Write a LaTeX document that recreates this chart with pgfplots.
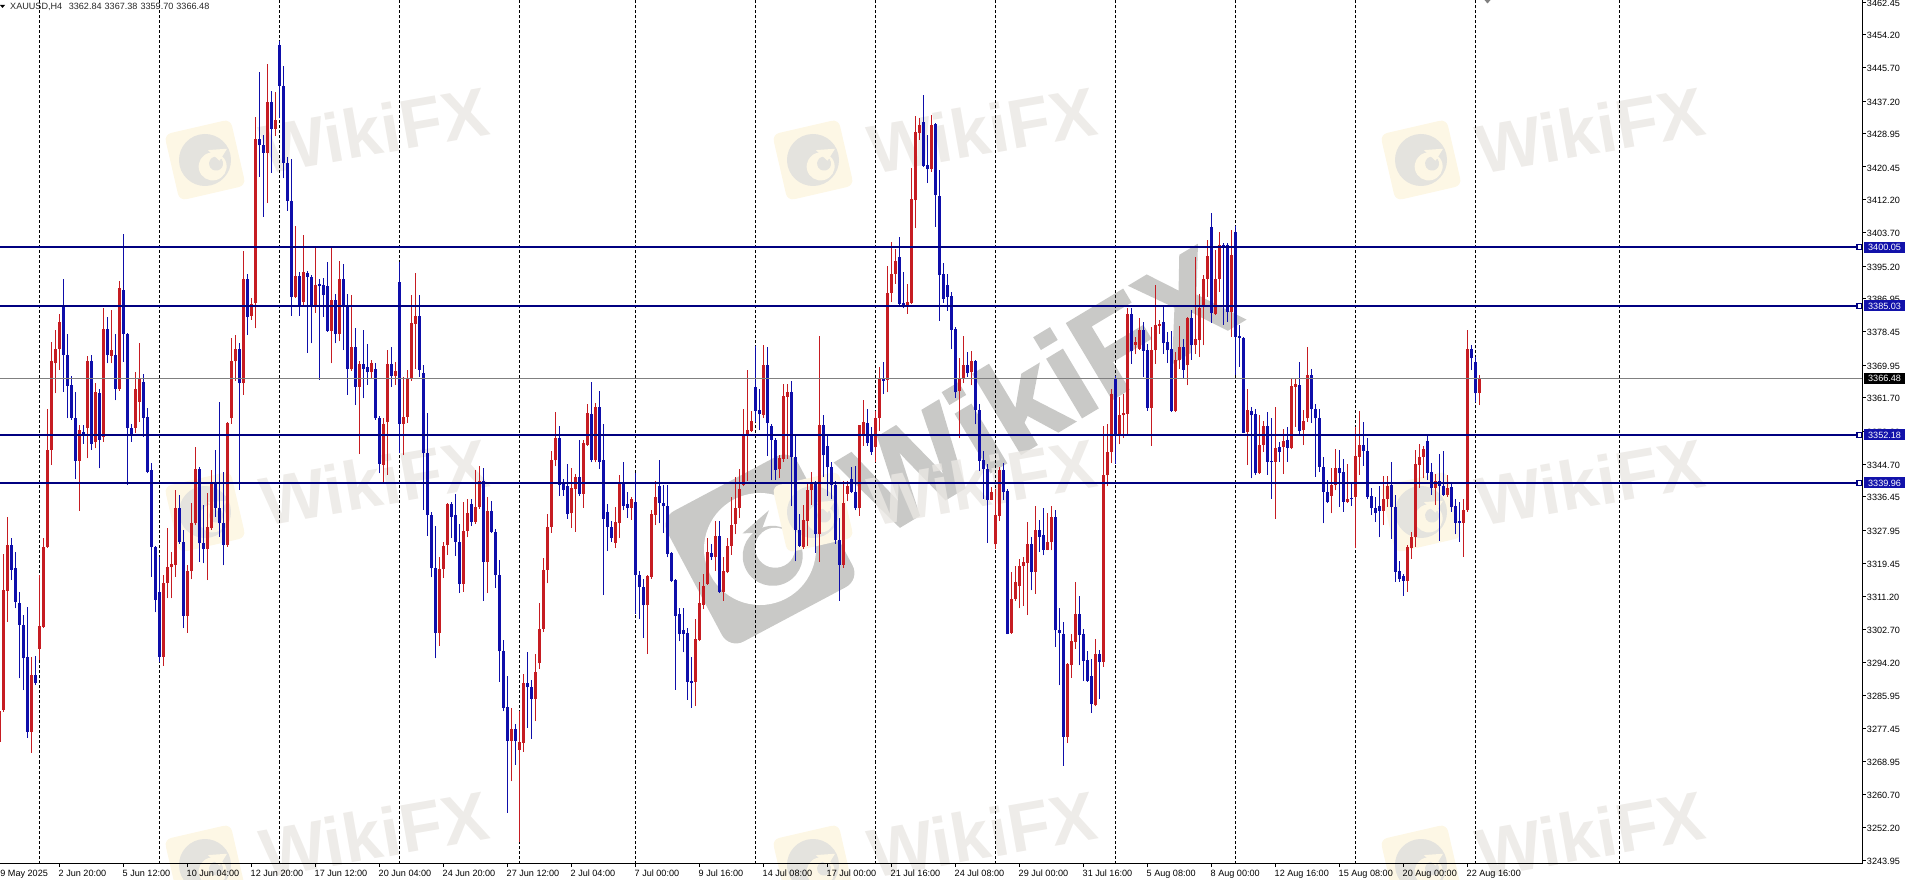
\documentclass[border=0pt]{standalone}
\usepackage{fontspec}
\setmainfont{Liberation Sans}
\newfontfamily\wmfont[FakeBold=1.6]{Liberation Sans Bold}
\usepackage{pgfplots}
\usepackage{pgfplotstable}
\pgfplotsset{compat=1.18}
\definecolor{upc}{RGB}{198,28,34}
\definecolor{dnc}{RGB}{14,14,170}
\definecolor{lvl}{RGB}{0,0,128}
\definecolor{tag}{RGB}{18,18,170}
\definecolor{wmtext}{RGB}{234,231,227}
\definecolor{wmlogo}{RGB}{253,247,229}
\definecolor{wmeagle}{RGB}{228,227,222}
\definecolor{wmbig}{RGB}{201,201,199}
\pgfplotstableread{
k o h l c
-10 3274 3286 3272.8 3282
-9 3282.1 3322 3281.7 3312.7
-8 3312.5 3331.4 3304.6 3324.2
-7 3324.2 3325.9 3315.2 3317.8
-6 3318.2 3322.5 3308 3309.7
-5 3309.5 3312.1 3290.2 3303.8
-4 3303.8 3306.3 3287.2 3295.3
-3 3295.7 3308.5 3275.1 3276.6
-2 3276.6 3295.7 3271.3 3291.1
-1 3291.1 3295.9 3288.5 3289
0 3297.8 3316.5 3294.9 3303.5
1 3303.4 3325.9 3303 3323.7
2 3323.6 3358.7 3323.4 3348.4
3 3348.4 3375.9 3344.5 3370.9
4 3370.4 3379 3362.8 3374.2
5 3374.2 3383.1 3368.7 3381
6 3385 3392 3363.2 3372.5
7 3372.5 3377.8 3356.4 3364.7
8 3364.9 3367.2 3356 3356.6
9 3356.6 3363.2 3340.9 3345.6
10 3345.6 3354.7 3332.9 3353.4
11 3353 3354.8 3349.9 3352.2
12 3353.9 3372.4 3346.2 3370.9
13 3370.9 3372.5 3348.4 3350
14 3350.3 3365.3 3348.8 3363
15 3362.8 3364 3343.7 3351
16 3351.7 3384.4 3350.5 3379.1
17 3379.1 3382.3 3370.4 3372.5
18 3372.4 3384 3370.4 3373.8
19 3372.5 3378 3361 3364
20 3364 3391.4 3363.5 3389.5
21 3389.2 3403.4 3370.8 3378
22 3378 3378.2 3339.4 3353.9
23 3353.9 3355 3350.4 3352.2
24 3353.9 3368.3 3352.6 3364
25 3360.6 3375.5 3355.5 3366.4
26 3365.8 3367.7 3351.7 3356.6
27 3356.8 3359 3342.4 3342.8
28 3343.3 3345 3316.1 3323.6
29 3323.6 3324 3307 3310.2
30 3312.1 3321.2 3294.4 3295.7
31 3295.7 3316.5 3293.3 3314.6
32 3314.6 3328.4 3310.6 3318.5
33 3318.5 3322.5 3310.6 3319.3
34 3319.1 3338.2 3316.1 3333.5
35 3333.5 3337 3324.5 3325
36 3325 3328 3303 3306.1
37 3306.1 3319 3301.8 3317.5
38 3317.5 3334.8 3315.4 3329.7
39 3329.7 3349 3329.2 3343.4
40 3343.4 3344 3319.9 3324.6
41 3324.6 3334.3 3319.5 3323.1
42 3323.1 3337.3 3315.2 3328.7
43 3328.4 3343.3 3328 3339.9
44 3340 3348.4 3331.4 3333.5
45 3333.7 3360.6 3326.3 3329.7
46 3329.7 3342.8 3319 3324.2
47 3324.2 3355.6 3323.7 3355.3
48 3356.4 3376.8 3355.1 3370.9
49 3370.9 3377.6 3366 3374
50 3374.2 3375.5 3338.2 3365.3
51 3365.3 3399.1 3362.4 3391.8
52 3391.8 3393.2 3377.6 3382.3
53 3382.5 3387 3381.5 3385.5
54 3385.9 3433.2 3379.3 3427.5
55 3427.5 3444.5 3418 3425.9
56 3426 3428.6 3407.8 3424.1
57 3424.1 3446.7 3411.2 3437
58 3436.9 3439.9 3419 3430.1
59 3430.1 3439.6 3428.3 3432.4
60 3451.5 3452.6 3433 3441.1
61 3441.1 3446.1 3417.5 3421.4
62 3421.4 3423 3409.3 3411.8
63 3411.8 3422.4 3382.5 3387.4
64 3387.4 3405.4 3387 3392.7
65 3392.7 3393.8 3382.5 3385
66 3386.1 3403.2 3384.8 3393.8
67 3393.5 3394 3373.1 3392.5
68 3392.5 3393 3375.5 3385
69 3385 3400 3383.3 3390.4
70 3390.6 3391.8 3366.2 3390
71 3390.4 3392.2 3382.3 3387.8
72 3390.1 3396.3 3378.5 3378.7
73 3378.7 3400 3370.4 3386.5
74 3386.5 3388 3375.5 3377.9
75 3377.9 3396.6 3376 3392
76 3392 3395.6 3373.8 3385
77 3385 3388 3362.4 3368.9
78 3368.9 3387.8 3368.5 3374.6
79 3374.6 3379.3 3359.8 3364.5
80 3364.5 3371 3347.3 3370.2
81 3370.2 3379 3361.5 3369.1
82 3369.6 3375.3 3365 3368.1
83 3368.1 3371.3 3366.6 3370.4
84 3368.9 3370.4 3356 3356.4
85 3356.4 3357 3342.4 3344.8
86 3344.5 3356.4 3340.3 3355.1
87 3355.6 3373.8 3342 3370.2
88 3370.2 3374.5 3364.5 3367.2
89 3367.2 3370.8 3364.9 3368.5
90 3391.2 3396.3 3347.5 3355.1
91 3355.1 3367 3347 3356.8
92 3356.8 3368.7 3355.3 3366.5
93 3366.5 3387.8 3366 3380.8
94 3380.4 3393.4 3369 3382.5
95 3382.5 3387.8 3367 3368.7
96 3367.9 3370 3333.1 3347.5
97 3347.5 3357.9 3326.5 3331.8
98 3331.8 3332.5 3315.9 3318.2
99 3318.2 3329 3295.3 3301.8
100 3301.8 3321.2 3298.4 3318
101 3318 3325 3315.7 3323.9
102 3324.2 3334.8 3321.6 3334.6
103 3334.6 3335.2 3325.9 3331.4
104 3331.8 3337.2 3321.4 3325
105 3325 3329.5 3311.9 3314.2
106 3314.2 3335.2 3312.3 3327.8
107 3327.8 3336 3326.1 3332.2
108 3334.6 3336 3329 3330.1
109 3330.1 3343.3 3329.5 3333.9
110 3333.9 3344.3 3333.4 3340.5
111 3340.5 3343.8 3310 3319.8
112 3319.8 3336.3 3311.9 3332.8
113 3332.8 3335.3 3327.3 3327.5
114 3327.5 3328.3 3313.3 3316.5
115 3316.5 3320.3 3289.3 3297.1
116 3297.1 3300.1 3281.8 3282.7
117 3283 3290.9 3256 3274.3
118 3274.3 3282.7 3264 3277.4
119 3277.4 3278.5 3268.2 3274.3
120 3271.9 3281.8 3248.5 3274
121 3273.8 3291.2 3271.5 3289
122 3289 3296.8 3277.6 3287.9
123 3287.9 3289.8 3274.8 3284.9
124 3284.9 3296.4 3279.3 3291.7
125 3294 3309.3 3292.6 3302.7
126 3302.9 3320.8 3302 3317.8
127 3317.8 3332 3314.4 3328.8
128 3328.8 3348.2 3327.3 3345.8
129 3345.7 3358 3344.2 3351.3
130 3351.3 3354.4 3336.7 3339.5
131 3340.3 3341 3336.7 3338.1
132 3339.1 3344.7 3330.9 3332
133 3332.2 3343.8 3328.5 3338.8
134 3338.4 3342.2 3327.5 3341.6
135 3341.6 3351 3336.7 3337.2
136 3337.2 3351 3333.7 3350.1
137 3349.7 3360 3349.4 3357.9
138 3357.4 3365.7 3345.2 3345.9
139 3345.7 3360.2 3345.2 3359.3
140 3359.3 3363.5 3343.5 3345.4
141 3345.9 3355 3311.4 3330.9
142 3332.5 3334.7 3322.6 3328.8
143 3328.8 3330.2 3325 3325.9
144 3324.7 3333.9 3323.4 3330
145 3329.7 3341.9 3325.9 3339.7
146 3340 3345.2 3333 3334.1
147 3334.7 3337.7 3331.1 3333.7
148 3333.7 3336.3 3330.6 3335.8
149 3335 3342.6 3306.7 3316.5
150 3316.5 3317.5 3305.3 3313.4
151 3313.4 3315.6 3300.6 3308.8
152 3308.8 3316.5 3296.4 3316.3
153 3316.1 3333 3315.6 3332
154 3331.9 3340.5 3329.2 3336.5
155 3339.1 3345.7 3329.7 3334.9
156 3334.9 3339.5 3327.2 3334
157 3334 3339.4 3321 3321.9
158 3322.2 3322.4 3314.7 3315.1
159 3315.3 3315.6 3287.3 3306.2
160 3306.5 3308.1 3299.6 3301.5
161 3302.5 3308.1 3296.8 3301.5
162 3301.8 3303.1 3284.8 3289.3
163 3289.5 3295.6 3282.7 3289.1
164 3289.3 3305.3 3283.2 3300.3
165 3300.1 3314.7 3299.6 3309.3
166 3309 3316.8 3307.8 3313.7
167 3314.2 3325.9 3314 3322.5
168 3322.2 3324.5 3320.3 3321
169 3321 3330.2 3317.5 3326.4
170 3326.4 3330.2 3311.9 3312.3
171 3312.3 3321.2 3310 3317.5
172 3317.2 3325.9 3317 3324
173 3324 3336.3 3321.7 3329.2
174 3329.4 3341.4 3326.9 3333.7
175 3333.7 3343.5 3331.1 3338.4
176 3339.5 3358.8 3339.1 3351.9
177 3351.9 3368.7 3340.5 3353.4
178 3353.2 3358.3 3352.9 3355.7
179 3364.4 3374.8 3355.5 3358.3
180 3358.5 3364 3353.4 3357.4
181 3357.2 3375 3356.5 3370.1
182 3370.1 3374.5 3346.9 3355.3
183 3354.4 3355 3340.7 3351
184 3351 3351.3 3340.7 3343.3
185 3343.5 3347.1 3341.2 3346.3
186 3346.1 3365.1 3345.4 3362.1
187 3361.9 3365.1 3346.1 3363.2
188 3363.2 3366 3334.1 3346.6
189 3346.6 3351.8 3320 3328.1
190 3328.1 3332 3323.6 3324
191 3323.6 3334.4 3323.1 3330.6
192 3330.4 3340 3324 3338.1
193 3338.1 3342.8 3334.4 3340
194 3339.7 3340.5 3322.2 3326.9
195 3326.9 3377.3 3319.8 3354.6
196 3354.6 3357.2 3341.4 3347
197 3349.4 3352.2 3336.7 3344
198 3344 3345.2 3335.8 3339.4
199 3339.4 3340.5 3324.5 3325.5
200 3325.5 3331.1 3310 3319.1
201 3319.1 3340.5 3318.4 3334.9
202 3337.2 3340.5 3335.3 3339.1
203 3341 3344 3337.5 3337.7
204 3337.7 3344.2 3333 3333.5
205 3333.5 3354.6 3331.6 3354.6
206 3352.5 3361 3349.4 3355.5
207 3355.2 3358.8 3349.4 3350.1
208 3352.2 3354.1 3347.1 3347.8
209 3349 3358.3 3345.2 3356.5
210 3356.5 3369.6 3353.2 3366.6
211 3366.6 3370.7 3362.6 3366
212 3366.3 3395.2 3363 3388.4
213 3388.4 3401.4 3386 3393.2
214 3393.2 3399.6 3390.7 3396.6
215 3397.4 3402.5 3384.9 3385.6
216 3385.7 3393.8 3384.4 3384.7
217 3385.3 3390.7 3383 3386.1
218 3385.7 3420.1 3385.5 3412.2
219 3412 3433.4 3404.8 3429.4
220 3429.1 3432.8 3427.3 3431.1
221 3432 3438.8 3420.5 3420.7
222 3420.9 3428.6 3416.3 3419.8
223 3420 3433.7 3419.2 3431.1
224 3431.3 3431.5 3405.2 3413.3
225 3413 3419.7 3381.3 3392.9
226 3393.2 3395.9 3385.8 3386.9
227 3390.4 3393.2 3383.8 3387.4
228 3387.6 3388.7 3374 3379
229 3379.2 3379.6 3361.7 3363
230 3363.3 3371.8 3351.3 3366.5
231 3366.5 3377.3 3365.4 3369.9
232 3369.9 3373.3 3367 3368
233 3368.2 3373.6 3364.8 3370.9
234 3370.9 3371.2 3354.9 3358.6
235 3358.6 3360 3343 3345.6
236 3345.7 3348.1 3336 3343.6
237 3343.6 3344.7 3324.7 3335.7
238 3335.7 3338.9 3335.5 3337.6
239 3324.3 3338.5 3323.2 3331.7
240 3331.5 3344 3330.3 3343.2
241 3343.2 3345 3335.5 3337.6
242 3337.9 3338.5 3301.4 3301.6
243 3301.7 3317.3 3301.6 3310.5
244 3310.5 3318.7 3310 3314.7
245 3313.6 3320.7 3308 3318.7
246 3318.7 3321.1 3308.6 3319.8
247 3319.6 3330 3306.3 3324.3
248 3324.3 3326.3 3312.6 3317.3
249 3317.3 3334 3311.7 3328.1
250 3328.1 3330.6 3322.4 3326.2
251 3326.6 3333.6 3321.5 3322.9
252 3322.9 3332.4 3322.8 3324.9
253 3324.9 3334 3322.8 3331.3
254 3331.3 3333 3298.2 3302.4
255 3302.6 3308.2 3288.4 3301.8
256 3301.4 3304.5 3267.9 3275.4
257 3275.3 3294 3273.7 3293.8
258 3293.5 3301.4 3290.3 3299.7
259 3299.5 3314.7 3297.7 3306.7
260 3306.7 3311.1 3293.5 3301.2
261 3301.4 3302.9 3289.5 3294.6
262 3294.8 3297.2 3289.3 3289.5
263 3290.7 3295.2 3281.4 3283.6
264 3283.3 3300.3 3283.1 3296.5
265 3296.5 3297.5 3285 3294.4
266 3294.4 3354.4 3293.1 3341.9
267 3341.9 3354.9 3339.1 3347.9
268 3347.9 3364 3345 3362.7
269 3366.5 3367.1 3344.9 3352.1
270 3352.1 3361.9 3349.8 3357.2
271 3357.2 3362.5 3351.5 3357.7
272 3357.6 3384.6 3352.5 3383
273 3383 3384.6 3370.3 3373.6
274 3375.2 3377.1 3372.7 3375.8
275 3374.2 3382 3373.9 3378.9
276 3378.9 3381 3366.9 3373.6
277 3373.7 3375.4 3358.4 3359.1
278 3359.1 3379.7 3349.5 3373.7
279 3373.7 3390.3 3370.3 3380.1
280 3379.9 3381.4 3378 3380.5
281 3381 3384.8 3372.9 3375.6
282 3375.9 3378.4 3370.5 3373.7
283 3374.2 3378.7 3358 3358.3
284 3358.3 3373.3 3358 3371.4
285 3371.4 3379.9 3369.1 3374.6
286 3374.6 3376.7 3366.8 3368.8
287 3369.9 3382.2 3364.8 3382
288 3382 3383.9 3371.4 3375
289 3375 3397.4 3372.8 3376.5
290 3376.3 3388 3372 3384.6
291 3385.3 3392.9 3375 3392
292 3392 3401.8 3387.4 3397.7
293 3405.2 3408.6 3380.8 3383.2
294 3383.1 3399.3 3382.7 3392
295 3392 3403.9 3388.7 3400.5
296 3400.5 3401 3380.2 3400.1
297 3400.5 3401 3381 3383.6
298 3383.6 3404.5 3377.2 3398
299 3403.8 3405.4 3367.4 3377.2
300 3377.4 3380.2 3369.6 3377
301 3377 3377.2 3352.6 3352.8
302 3353 3363.8 3344.5 3358.5
303 3358.4 3359.2 3341.1 3357.2
304 3357.5 3358.7 3342 3342.4
305 3342.4 3357.2 3342.2 3349.6
306 3349.6 3355.8 3347.9 3354.4
307 3354.4 3358.1 3342 3345.4
308 3345.6 3356.4 3336 3345.2
309 3345.4 3359.4 3330.9 3348.9
310 3349.2 3350.5 3345.4 3347.9
311 3349.2 3353.6 3342.2 3350.7
312 3350.9 3354.1 3345.4 3348.9
313 3348.8 3366.6 3348.5 3364.6
314 3364.5 3366.8 3354.3 3365.1
315 3364.9 3370.7 3352.4 3353.3
316 3353.4 3358.5 3349.6 3355.8
317 3356.4 3374.6 3355.5 3367.4
318 3367.4 3369.1 3355.3 3358.7
319 3358.7 3360 3341.5 3356.4
320 3356.4 3358.9 3342.8 3344.1
321 3344.1 3346.5 3329.7 3337.7
322 3337.7 3340.7 3334.8 3335.2
323 3336.7 3343.7 3332.2 3339.4
324 3339.4 3348.5 3338.1 3343.7
325 3343.7 3348.3 3333.9 3342.4
326 3342.8 3346 3332.6 3335.2
327 3335.2 3344.9 3334.9 3335.9
328 3336 3339.8 3334.1 3335.8
329 3336.4 3354.3 3323.5 3346.8
330 3346.6 3358.3 3342 3349.6
331 3349.6 3355.5 3344.3 3348.2
332 3348.2 3351.3 3335.8 3336.4
333 3336.6 3338.6 3331.8 3333.5
334 3333.5 3336.4 3330.1 3332.4
335 3334.1 3339.2 3326.1 3332.9
336 3332.9 3341.7 3329.2 3336
337 3336 3341.7 3333.9 3339.2
338 3339.4 3345.2 3325.8 3333.9
339 3333.9 3336.9 3314.8 3317.4
340 3317.5 3320.1 3314.8 3315.4
341 3316.3 3316.9 3311.2 3315.1
342 3315.1 3324.1 3312.3 3323.7
343 3323.3 3327.5 3320.7 3326.1
344 3326.1 3348.3 3323.7 3344.7
345 3344.5 3350 3338.8 3346.6
346 3346.6 3349.4 3341.1 3348.5
347 3350.7 3352.2 3340.7 3342.6
348 3342.7 3345 3336.9 3338.6
349 3338.8 3342.2 3334.3 3340.5
350 3340.5 3347.3 3325.2 3339.2
351 3339.2 3348.2 3336.6 3336.9
352 3336.9 3342 3336.4 3338.6
353 3339 3340.3 3332.6 3333.9
354 3334.1 3336 3326.9 3329.8
355 3330.1 3335.2 3325 3329.8
356 3329.8 3335.8 3321.2 3333.2
357 3333 3378.9 3332.6 3374
358 3374 3375.1 3368.7 3371.7
359 3370.8 3372.1 3360.5 3362.8
360 3362.84 3367.38 3359.70 3366.48
}\bars
\newcommand{\smalllogo}[2]{%
  \begin{scope}[shift={(#1pt,{879pt-#2pt})},rotate=13]
    \fill[wmlogo,rounded corners=7pt] (-34pt,-34pt) rectangle (34pt,34pt);
    \fill[wmeagle] (0,0) circle (26pt);
    \fill[wmlogo] (6pt,-8pt) circle (14pt);
    \fill[wmeagle] (10pt,-6pt) circle (7pt);
    \fill[wmlogo] (24pt,6pt) -- (5pt,9pt) -- (14pt,-4pt) -- cycle;
  \end{scope}}
\newcommand{\smalltext}[2]{%
  \node[rotate=10,text=wmtext,opacity=.8,inner sep=0pt,font=\fontsize{69}{69}\selectfont\bfseries] at (#1pt,{879pt-#2pt}) {WikiFX};}
\begin{document}
\begin{tikzpicture}
\useasboundingbox (0,0) rectangle (1907pt,879pt);
% large central watermark
\begin{scope}[shift={(760pt,{879pt-549pt})},rotate=28]
  \fill[wmbig,rounded corners=16pt] (-74pt,-74pt) rectangle (74pt,74pt);
  \fill[white] (0,0) circle (56pt);
  \fill[wmbig] (8pt,-12pt) circle (30pt);
  \fill[white] (14pt,-6pt) circle (20pt);
  \fill[wmbig] (-8pt,22pt) -- (26pt,30pt) -- (8pt,14pt) -- cycle;
\end{scope}
\node[rotate=31,text=wmbig,inner sep=0pt,font=\fontsize{128}{128}\wmfont] at (1039pt,{879pt-389pt}) {WikiFX};
% small watermarks
\foreach \x in {205,813,1421}{\smalllogo{\x}{160}\smalllogo{\x}{512}\smalllogo{\x}{865}}
\foreach \x in {374,982,1590}{\smalltext{\x}{130}\smalltext{\x}{482}\smalltext{\x}{834}}
\begin{axis}[
  at={(0pt,15.5pt)},anchor=south west,
  scale only axis,width=1862.3pt,height=863.5pt,
  xmin=-9.875,xmax=455.7,ymin=3243.06,ymax=3462.95,
  axis x line*=bottom,axis y line*=right,
  axis line style={black,line width=.9pt},
  clip=false,
  tick align=outside,major tick length=3.5pt,
  tick style={black,line width=.8pt},
  xtick={5,21,37,53,69,85,101,117,133,149,165,181,197,213,229,245,261,277,293,309,325,341,357},
  xticklabels={2 Jun 20:00,5 Jun 12:00,10 Jun 04:00,12 Jun 20:00,17 Jun 12:00,20 Jun 04:00,24 Jun 20:00,27 Jun 12:00,2 Jul 04:00,7 Jul 00:00,9 Jul 16:00,14 Jul 08:00,17 Jul 00:00,21 Jul 16:00,24 Jul 08:00,29 Jul 00:00,31 Jul 16:00,5 Aug 08:00,8 Aug 00:00,12 Aug 16:00,15 Aug 08:00,20 Aug 00:00,22 Aug 16:00},
  xticklabel style={anchor=north west,inner sep=0pt,font=\fontsize{9.1}{10}\selectfont,xshift=-1pt,yshift=-3pt},
  ytick={3243.95,3252.20,3260.70,3268.95,3277.45,3285.95,3294.20,3302.70,3311.20,3319.45,3327.95,3336.45,3344.70,3353.20,3361.70,3369.95,3378.45,3386.95,3395.20,3403.70,3412.20,3420.45,3428.95,3437.20,3445.70,3454.20,3462.45},
  yticklabels={3243.95,3252.20,3260.70,3268.95,3277.45,3285.95,3294.20,3302.70,3311.20,3319.45,3327.95,3336.45,3344.70,3353.20,3361.70,3369.95,3378.45,3386.95,3395.20,3403.70,3412.20,3420.45,3428.95,3437.20,3445.70,3454.20,3462.45},
  yticklabel style={anchor=west,inner sep=0pt,font=\fontsize{9.1}{10}\selectfont,xshift=1pt,yshift=-1pt},
  extra x ticks={0,30,60,90,120,149,179,209,239,269,299,329,359,395},
  extra x tick labels={},
  extra x tick style={grid=major,major tick length=0pt},
  major grid style={black,line width=.85pt,dash pattern=on 3pt off 2pt},
]
% wicks
\addplot[draw=none,forget plot,error bars/.cd,y dir=plus,y explicit,error mark=none,error bar style={line width=1.1pt,upc}]
  table[x expr={\thisrow{c}>=\thisrow{o}?\thisrow{k}:nan},y=l,y error plus expr={\thisrow{h}-\thisrow{l}}] {\bars};
\addplot[draw=none,forget plot,error bars/.cd,y dir=plus,y explicit,error mark=none,error bar style={line width=1.1pt,dnc}]
  table[x expr={\thisrow{c}<\thisrow{o}?\thisrow{k}:nan},y=l,y error plus expr={\thisrow{h}-\thisrow{l}}] {\bars};
% bodies
\addplot[draw=none,forget plot,error bars/.cd,y dir=plus,y explicit,error mark=none,error bar style={line width=3.3pt,upc}]
  table[x expr={\thisrow{c}>=\thisrow{o}?\thisrow{k}:nan},y expr={\thisrow{o}},y error plus expr={max(\thisrow{c}-\thisrow{o},.4)}] {\bars};
\addplot[draw=none,forget plot,error bars/.cd,y dir=plus,y explicit,error mark=none,error bar style={line width=3.3pt,dnc}]
  table[x expr={\thisrow{c}<\thisrow{o}?\thisrow{k}:nan},y expr={\thisrow{c}},y error plus expr={max(\thisrow{o}-\thisrow{c},.4)}] {\bars};
% level lines
\addplot[gray,line width=1pt,forget plot] coordinates {(-9.875,3366.48) (455.7,3366.48)};
\addplot[lvl,line width=2pt,forget plot] coordinates {(-9.875,3400.05) (455.7,3400.05)};
\addplot[lvl,line width=2pt,forget plot] coordinates {(-9.875,3385.03) (455.7,3385.03)};
\addplot[lvl,line width=2pt,forget plot] coordinates {(-9.875,3352.18) (455.7,3352.18)};
\addplot[lvl,line width=2pt,forget plot] coordinates {(-9.875,3339.96) (455.7,3339.96)};
\addplot[only marks,forget plot,mark=square*,mark size=2.3pt,mark options={draw=lvl,fill=white,line width=1.5pt}] coordinates {(454.9,3400.05) (454.9,3385.03) (454.9,3352.18) (454.9,3339.96)};
% price tags
\foreach \v/\c in {3400.05/tag,3385.03/tag,3352.18/tag,3339.96/tag,3366.48/black}{
  \edef\temp{\noexpand\node[anchor=west,fill=\c,text=white,inner sep=0pt,minimum width=41pt,minimum height=11pt,font=\noexpand\fontsize{9.1}{10}\noexpand\selectfont] at (axis cs:456.1,\v) {\v};}
  \temp
}
\node[anchor=north west,inner sep=0pt,font=\fontsize{9.1}{10}\selectfont] at (axis cs:-11.1,3243.06) [yshift=-6.5pt] {29 May 2025};
\end{axis}
% chart header
\fill[black] (0pt,{879pt-5pt}) -- (5pt,{879pt-5pt}) -- (2.5pt,{879pt-8pt}) -- cycle;
\node[anchor=west,inner sep=0pt,font=\fontsize{9.1}{10}\selectfont,text=black!85] at (10pt,{879pt-6.5pt}) {XAUUSD,H4\hspace{6.5pt}3362.84\hspace{3pt}3367.38\hspace{3pt}3359.70\hspace{3pt}3366.48};
\fill[gray] (1484.5pt,879pt) -- (1490.5pt,879pt) -- (1487.5pt,{879pt-3.5pt}) -- cycle;
\end{tikzpicture}
\end{document}
